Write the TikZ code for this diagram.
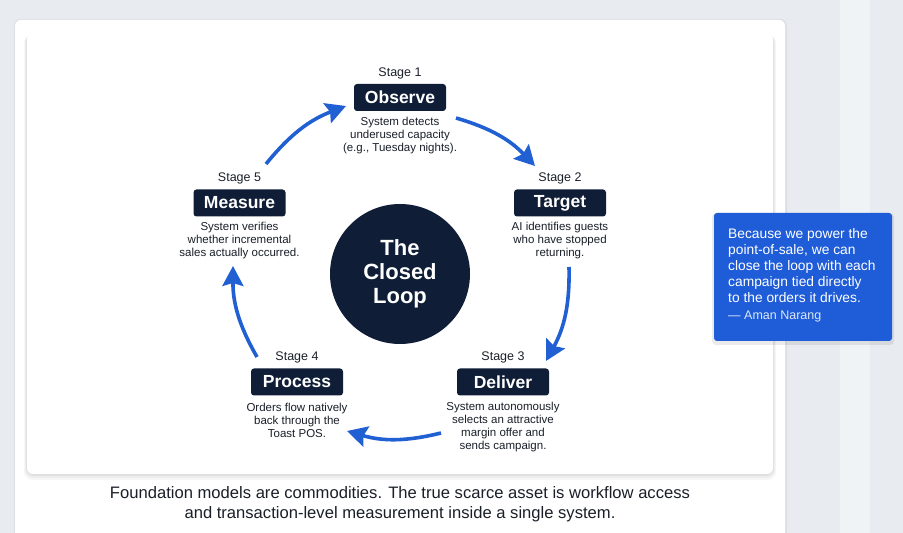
\documentclass[tikz,border=0pt]{standalone}
\usepackage{fontspec}
\setmainfont{Liberation Sans}
\usetikzlibrary{arrows.meta}
\definecolor{bgc}{HTML}{E8ECF1}
\definecolor{navy}{HTML}{0F1E36}
\definecolor{loopblue}{HTML}{2160D2}
\definecolor{quoteblue}{HTML}{1F5CD8}
\definecolor{txt}{HTML}{1A1F29}
\tikzset{
  stagebox/.style={fill=navy, rounded corners=3pt, minimum width=92pt, minimum height=27pt,
    text=white, font=\bfseries\fontsize{17.5}{20}\selectfont, inner sep=0pt},
  stagelbl/.style={text=txt, font=\fontsize{12.5}{14}\selectfont, inner sep=0pt},
  desc/.style={text=txt, align=center, font=\fontsize{11.5}{13}\selectfont, inner sep=0pt},
  looparrow/.style={draw=loopblue, line width=3.6pt, -{Stealth[length=20pt 0 0,width=21pt 0 0,inset=3pt 0]}, bend left=15},
}
\begin{document}
\begin{tikzpicture}[x=1pt,y=1pt]
\useasboundingbox (0,0) rectangle (903,533);
\fill[bgc] (0,0) rectangle (903,533);
\fill[white!35!bgc] (840,0) rectangle (870,533);
% outer panel
\fill[black, opacity=0.05, rounded corners=7pt] (14,-6) rectangle (787,514);
\fill[white, rounded corners=6pt] (15,-5) rectangle (785,513);
% inner card shadow
\foreach \d/\o in {6/0.03,4/0.04,2/0.05}{
  \fill[black, opacity=\o, rounded corners=8pt] (27-\d*0.5,59-\d) rectangle (773+\d*0.5,500-\d*0.3);
}
\fill[white, rounded corners=6pt] (27,59) rectangle (773,500);

% centre circle
\node[circle, fill=navy, minimum size=140pt, inner sep=0pt, text=white, align=center,
  font=\bfseries\fontsize{22}{24}\selectfont] (loop) at (400,259) {The\\Closed\\Loop};

% stages
\node[stagebox] (observe) at (400,435.5) {Observe};
\node[stagelbl] (s1) at (400,460) {Stage 1};
\node[desc] (d1) at (400,397.5) {System detects\\underused capacity\\(e.g., Tuesday nights).};

\node[stagebox] (target) at (560,330) {Target};
\node[stagelbl] (s2) at (560,355) {Stage 2};
\node[desc] (d2) at (560,292) {AI identifies guests\\who have stopped\\returning.};

\node[stagebox] (deliver) at (503,151) {Deliver};
\node[stagelbl] (s3) at (503,176) {Stage 3};
\node[desc] (d3) at (503,106) {System autonomously\\selects an attractive\\margin offer and\\sends campaign.};

\node[stagebox] (process) at (297,151) {Process};
\node[stagelbl] (s4) at (297,176) {Stage 4};
\node[desc] (d4) at (297,113) {Orders flow natively\\back through the\\Toast POS.};

\node[stagebox] (measure) at (239.5,330) {Measure};
\node[stagelbl] (s5) at (239.5,355) {Stage 5};
\node[desc] (d5) at (239.5,292) {System verifies\\whether incremental\\sales actually occurred.};

% arrow end points
\coordinate (a1s) at (456,415); \coordinate (a1e) at (535,367);
\coordinate (a2s) at (569,266); \coordinate (a2e) at (546,172);
\coordinate (a3s) at (441,100); \coordinate (a3e) at (347,102);
\coordinate (a4s) at (257,176); \coordinate (a4e) at (233,267);
\coordinate (a5s) at (266,369); \coordinate (a5e) at (346,427);
\draw[looparrow] (a1s) to (a1e);
\draw[looparrow] (a2s) to (a2e);
\draw[looparrow] (a3s) to (a3e);
\draw[looparrow] (a4s) to (a4e);
\draw[looparrow] (a5s) to (a5e);

% quote box
\fill[black, opacity=0.08, rounded corners=4pt] (712,188) rectangle (894,320);
\node[fill=quoteblue, rounded corners=3pt, minimum width=178pt, minimum height=128pt, inner sep=0pt] (quote) at (803,256) {};
\node[anchor=north west, text=white, align=left, inner sep=0pt,
  font=\fontsize{13.8}{16}\selectfont] (qt) at (728,305) {Because we power the\\point-of-sale, we can\\close the loop with each\\campaign tied directly\\to the orders it drives.};
\node[anchor=west, text=white!85!quoteblue, inner sep=0pt, font=\fontsize{12.5}{14}\selectfont] (qa) at (728,217) {— Aman Narang};

% caption
\node[text=txt, align=center, font=\fontsize{16.6}{20}\selectfont, inner sep=0pt] (cap) at (400,29)
  {Foundation models are commodities. The true scarce asset is workflow access\\and transaction-level measurement inside a single system.};
\end{tikzpicture}
\end{document}
